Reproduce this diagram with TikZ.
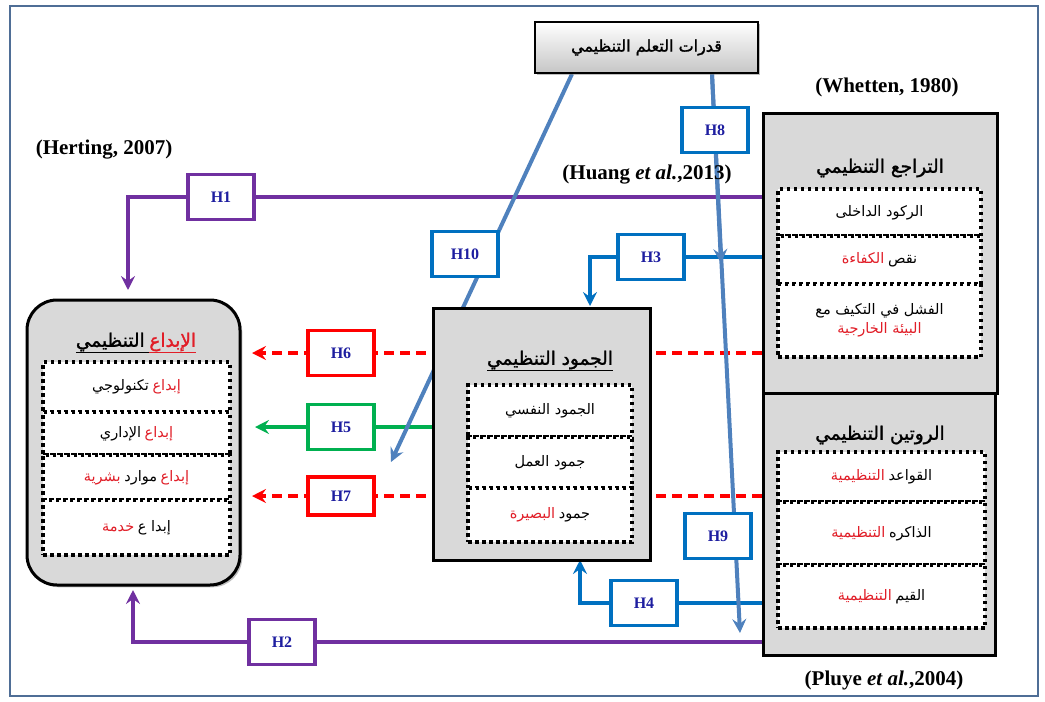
\documentclass[tikz,border=0pt]{standalone}
\usepackage{fontspec}
\setmainfont{Liberation Serif}
\newfontfamily\arabicfont[Script=Arabic, BoldFont={DejaVu Sans}, BoldFeatures={FakeBold=1.5}]{DejaVu Sans}
\TeXXeTstate=1
\usetikzlibrary{arrows.meta,shadows,backgrounds}
\definecolor{boxgray}{RGB}{217,217,217}
\definecolor{frameblue}{RGB}{79,110,150}
\definecolor{hpurple}{RGB}{112,48,160}
\definecolor{hblue}{RGB}{0,112,192}
\definecolor{hsteel}{RGB}{79,129,189}
\definecolor{hred}{RGB}{255,0,0}
\definecolor{hgreen}{RGB}{0,176,80}
\definecolor{hnavy}{RGB}{30,30,160}
\definecolor{arred}{RGB}{225,30,40}
\newcommand{\artxt}[1]{{\arabicfont\beginR #1\endR}}
\newcommand{\artred}[1]{\textcolor{arred}{\artxt{#1}}}
\begin{document}
\begin{tikzpicture}
	[x=1pt, y=-1pt,
	bigbox/.style={draw, line width=3pt, fill=boxgray, drop shadow},
	dotbox/.style={draw, fill=white, line width=3.5pt, dash pattern=on 3.5pt off 3.5pt,
		inner sep=0pt, font=\fontsize{14.5}{19}\selectfont, align=center},
	boxtitle/.style={font=\bfseries\fontsize{18.5}{22}\selectfont},
	hyp/.style={draw, fill=white, line width=3.5pt, minimum width=66pt, minimum height=45pt,
		inner sep=0pt, text=hnavy, font=\bfseries\fontsize{16}{18}\selectfont},
	cite/.style={font=\bfseries\fontsize{21}{24}\selectfont},
	tip/.style={-{Stealth[length=14pt,width=14pt,inset=5pt]}},
	link/.style={line width=4pt}]
	\useasboundingbox (0,0) rectangle (1045,702);
	\draw[frameblue, line width=2.5pt] (10,6) rectangle (1038,696);

	% top box
	\node[draw, line width=2pt, top color=white, bottom color=gray!45, drop shadow,
		minimum width=223pt, minimum height=51pt, font=\bfseries\fontsize{16}{19}\selectfont]
		(qa) at (646.5,47.5) {\artxt{قدرات التعلم التنظيمي}};

	% left box
	\node[bigbox, rounded corners=30pt, minimum width=213pt, minimum height=285pt]
		(lb) at (133.5,442.5) {};
	\node[boxtitle] (lbt) at (136,343)
		{\underline{\artxt{التنظيمي}\ }\textcolor{arred}{\underline{\artxt{الإبداع}}}};
	\node[dotbox, minimum width=187pt, minimum height=50pt] (lb1) at (136.5,387)
		{\artxt{تكنولوجي}\ \artred{إبداع}};
	\node[dotbox, minimum width=187pt, minimum height=43pt] (lb2) at (136.5,433.5)
		{\artxt{الإداري}\ \artred{إبداع}};
	\node[dotbox, minimum width=187pt, minimum height=45pt] (lb3) at (136.5,477.5)
		{\artred{بشرية}\ \artxt{موارد}\ \artred{إبداع}};
	\node[dotbox, minimum width=187pt, minimum height=55pt] (lb4) at (136.5,527.5)
		{\artred{خدمة}\ \artxt{إبدا ع}};

	% middle box
	\node[bigbox, minimum width=217pt, minimum height=252pt] (mb) at (541.5,434) {};
	\node[boxtitle] (mbt) at (550,361) {\underline{\artxt{الجمود التنظيمي}}};
	\node[dotbox, minimum width=164pt, minimum height=52pt] (mb1) at (550,411)
		{\artxt{الجمود النفسي}};
	\node[dotbox, minimum width=164pt, minimum height=51pt] (mb2) at (550,462.5)
		{\artxt{جمود العمل}};
	\node[dotbox, minimum width=164pt, minimum height=54pt] (mb3) at (550,515)
		{\artred{البصيرة}\ \artxt{جمود}};

	% right top box
	\node[bigbox, minimum width=234pt, minimum height=280pt] (rt) at (880,253) {};
	\node[boxtitle] (rtt) at (880,168) {\artxt{التراجع التنظيمي}};
	\node[dotbox, minimum width=203pt, minimum height=47pt] (rt1) at (879.5,212.5)
		{\artxt{الركود الداخلى}};
	\node[dotbox, minimum width=203pt, minimum height=48pt] (rt2) at (879.5,260)
		{\artred{الكفاءة}\ \artxt{نقص}};
	\node[dotbox, minimum width=203pt, minimum height=73pt] (rt3) at (879.5,320.5)
		{\artxt{الفشل في التكيف مع}\\\artred{البيئة الخارجية}};

	% right bottom box
	\node[bigbox, minimum width=232pt, minimum height=262pt] (rb) at (879,524) {};
	\node[boxtitle] (rbt) at (880,435) {\artxt{الروتين التنظيمي}};
	\node[dotbox, minimum width=207pt, minimum height=50pt] (rb1) at (881.5,477)
		{\artred{التنظيمية}\ \artxt{القواعد}};
	\node[dotbox, minimum width=207pt, minimum height=63pt] (rb2) at (881.5,533.5)
		{\artred{التنظيمية}\ \artxt{الذاكره}};
	\node[dotbox, minimum width=207pt, minimum height=63pt] (rb3) at (881.5,596.5)
		{\artred{التنظيمية}\ \artxt{القيم}};

	% sources
	\node[cite] (whetten) at (887,87) {(Whetten, 1980)};
	\node[cite] (herting) at (104,150) {(Herting, 2007)};
	\node[cite] (huang) at (647,175) {(Huang \textit{et al.},2013)};
	\node[cite] (pluye) at (884,680) {(Pluye \textit{et al.},2004)};

	% hypotheses
	\node[hyp, draw=hpurple] (H1) at (221,197) {H1};
	\node[hyp, draw=hpurple] (H2) at (282,642) {H2};
	\node[hyp, draw=hblue] (H3) at (651,257) {H3};
	\node[hyp, draw=hblue] (H4) at (644,603) {H4};
	\node[hyp, draw=hgreen] (H5) at (341,427) {H5};
	\node[hyp, draw=hred] (H6) at (341,353) {H6};
	\node[hyp, draw=hred, minimum height=38pt] (H7) at (341,496) {H7};
	\node[hyp, draw=hblue] (H8) at (715,130) {H8};
	\node[hyp, draw=hblue] (H9) at (718,536) {H9};
	\node[hyp, draw=hblue] (H10) at (465,254) {H10};

	\coordinate (h1end) at (128,290);
	\coordinate (h2end) at (133,590);
	\coordinate (h3end) at (590,306);
	\coordinate (h4end) at (580,560);
	\coordinate (h5end) at (255,427);
	\coordinate (h6end) at (252,353);
	\coordinate (h7end) at (252,496);
	\coordinate (h8end) at (721,263);
	\coordinate (h9end) at (740,633);
	\coordinate (h10end) at (391,462);

	\begin{scope}[on background layer]
		\draw[link, hpurple, tip] (rt.west |- H1) -| (h1end);
		\draw[link, hpurple, tip] (rb.west |- H2) -| (h2end);
		\draw[link, hblue, tip] (rt.west |- H3) -| (h3end);
		\draw[link, hblue, tip] (rb.west |- H4) -| (h4end);
		\draw[link, hgreen, tip] (mb.west |- H5) -- (h5end);
		\draw[link, hred, dash pattern=on 10pt off 6pt, tip] (rt.west |- H6) -- (h6end);
		\draw[link, hred, dash pattern=on 10pt off 6pt, tip] (rb.west |- H7) -- (h7end);
		\draw[link, hsteel, tip] ([xshift=65.5pt]qa.south) -- (h8end);
		\draw[link, hsteel, tip] ([xshift=65.5pt]qa.south) -- (h9end);
		\draw[link, hsteel, tip] ([xshift=-74.5pt]qa.south) -- (h10end);
	\end{scope}
\end{tikzpicture}
\end{document}
